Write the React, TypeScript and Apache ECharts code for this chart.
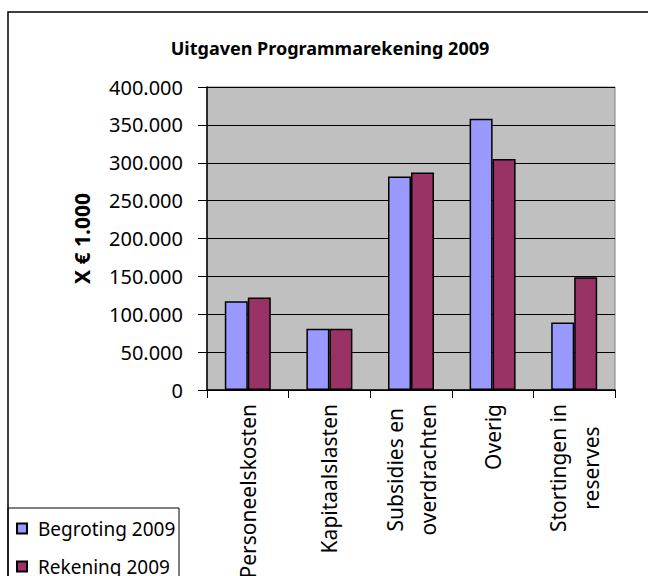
import React, { useEffect, useRef } from "react";
import * as echarts from "echarts";

const categories = [
  "Personeelskosten",
  "Kapitaalslasten",
  "Subsidies en\noverdrachten",
  "Overig",
  "Stortingen in\nreserves",
];
const begroting2009 = [117000, 81000, 282000, 358000, 89000];
const rekening2009 = [122000, 81000, 287000, 305000, 149000];
const seriesNames = ["Begroting 2009", "Rekening 2009"];
const titleText = "Uitgaven Programmarekening 2009";
const yAxisName = "X € 1.000";

const FONT = "'Noto Sans', 'Open Sans', sans-serif";

function fmt(v: number): string {
  const s = Math.round(v).toString();
  return s.replace(/\B(?=(\d{3})+(?!\d))/g, ".");
}

export default function App() {
  const ref = useRef<HTMLDivElement>(null);
  useEffect(() => {
    if (!ref.current) return;
    const chart = echarts.init(ref.current, null, { renderer: "svg" });
    chart.setOption({
      animation: false,
      backgroundColor: "#ffffff",
      textStyle: { fontFamily: FONT, color: "#000" },
      title: {
        text: titleText,
        left: 325,
        top: 34,
        textAlign: "center",
        textStyle: { fontFamily: FONT, fontSize: 18, fontWeight: "bold", color: "#000" },
      },
      grid: {
        left: 207,
        right: 33,
        top: 87,
        bottom: 186,
        containLabel: false,
        outerBoundsMode: "none",
        show: true,
        backgroundColor: "#C0C0C0",
        borderColor: "#808080",
        borderWidth: 1,
      },
      legend: {
        orient: "vertical",
        left: 16,
        top: 519,
        itemWidth: 10,
        itemHeight: 10,
        itemGap: 19,
        icon: "rect",
        padding: 0,
        textStyle: { fontFamily: FONT, fontSize: 19, color: "#000", padding: [0, 0, 0, 6] },
        data: seriesNames,
      },
      xAxis: {
        type: "category",
        data: categories,
        axisLine: { lineStyle: { color: "#000", width: 1.5 } },
        axisTick: { show: true, length: 8, lineStyle: { color: "#000" } },
        axisLabel: {
          rotate: 90,
          fontFamily: FONT,
          fontSize: 21,
          color: "#000",
          margin: 14,
          interval: 0,
          formatter: (v: string) =>
            v
              .split("\n")
              .map((l) => `{c|${l}}`)
              .join("\n"),
          rich: {
            c: {
              align: "center",
              fontFamily: FONT,
              fontSize: 21,
              lineHeight: 33,
              color: "#000",
            },
          },
        },
      },
      yAxis: {
        type: "value",
        min: 0,
        max: 400000,
        interval: 50000,
        name: yAxisName,
        nameLocation: "middle",
        nameGap: 115,
        nameTextStyle: { fontFamily: FONT, fontSize: 21, fontWeight: "bold", color: "#000" },
        axisLine: { show: true, lineStyle: { color: "#000", width: 1.5 } },
        axisTick: { show: true, length: 9, lineStyle: { color: "#000" } },
        axisLabel: {
          fontFamily: FONT,
          fontSize: 20,
          color: "#000",
          margin: 24,
          formatter: (v: number) => fmt(v),
        },
        splitLine: { show: true, lineStyle: { color: "#000", width: 1 } },
      },
      series: [
        {
          name: seriesNames[0],
          type: "bar",
          data: begroting2009,
          barWidth: 23,
          barGap: "0%",
          itemStyle: { color: "#9999FF", borderColor: "#000", borderWidth: 1.5 },
        },
        {
          name: seriesNames[1],
          type: "bar",
          data: rekening2009,
          barWidth: 23,
          barGap: "0%",
          itemStyle: { color: "#993366", borderColor: "#000", borderWidth: 1.5 },
        },
      ],
      graphic: [
        {
          type: "rect",
          shape: { x: 8, y: 12, width: 700, height: 700 },
          style: { fill: "none", stroke: "#000", lineWidth: 1.5 },
          z: 100,
        },
        {
          type: "rect",
          shape: { x: 8, y: 508, width: 171, height: 100 },
          style: { fill: "#fff", stroke: "#000", lineWidth: 1 },
          z: -1,
        },
      ],
    });
    return () => chart.dispose();
  }, []);
  return (
    <div
      ref={ref}
      style={{ position: "fixed", left: 0, top: 0, width: 648, height: 576 }}
    />
  );
}
